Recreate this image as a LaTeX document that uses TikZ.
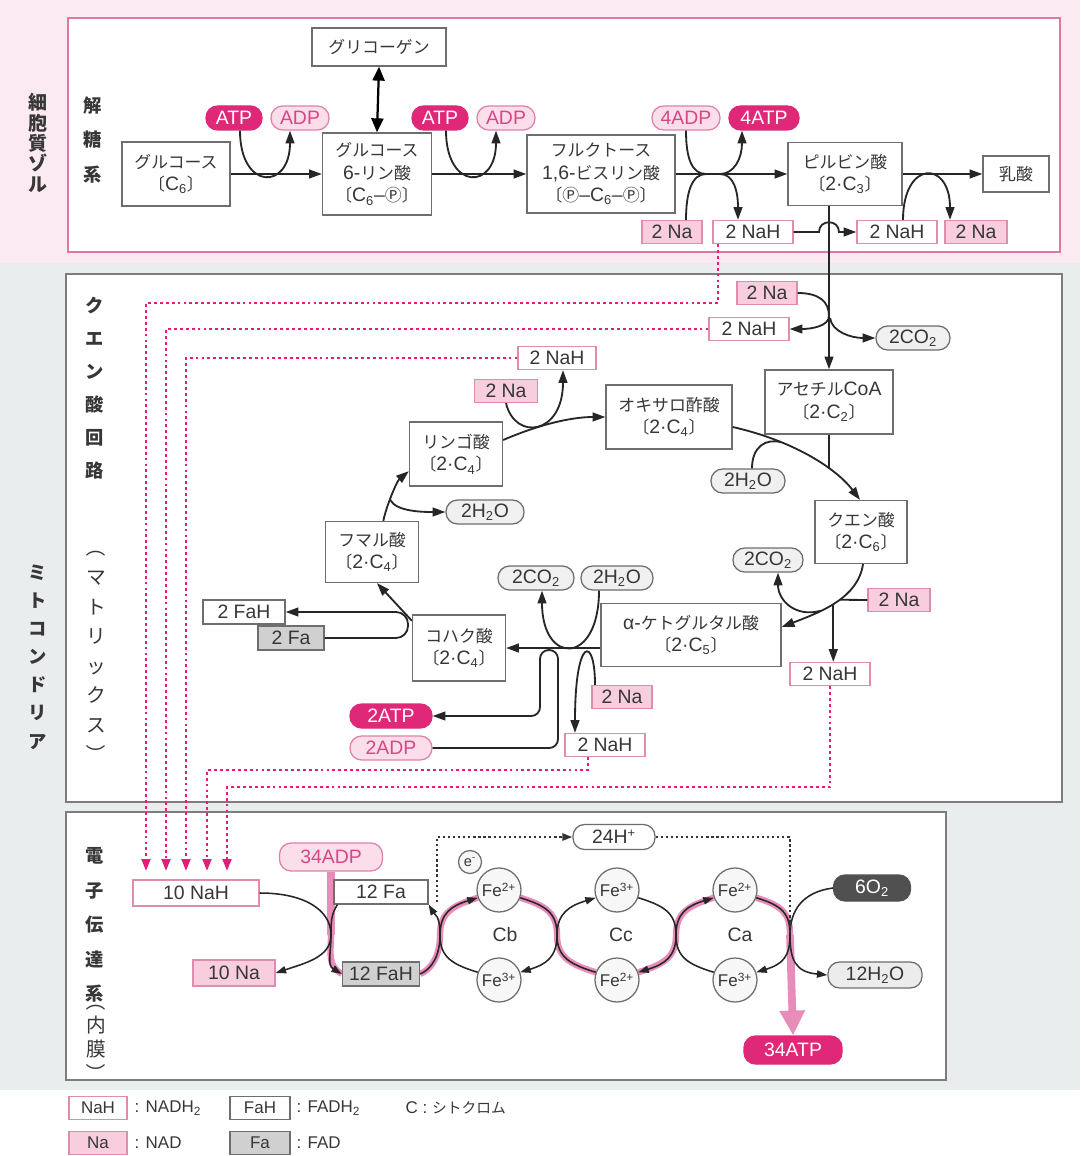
\documentclass[tikz,border=0pt]{standalone}
\usepackage{fontspec}
\setmainfont[Scale=1.15]{Liberation Sans}
\newfontfamily\jp{Noto Sans CJK JP}
\usetikzlibrary{arrows.meta,calc}

\definecolor{txt}{RGB}{55,55,55}
\definecolor{atpmag}{RGB}{224,40,120}
\definecolor{adpfill}{RGB}{252,222,234}
\definecolor{adpline}{RGB}{222,130,170}
\definecolor{adptext}{RGB}{215,70,135}
\definecolor{nafill}{RGB}{248,205,222}
\definecolor{naline}{RGB}{225,140,175}
\definecolor{boxline}{RGB}{110,110,110}
\definecolor{molfill}{RGB}{240,240,240}
\definecolor{fafill}{RGB}{208,208,208}
\definecolor{cytobg}{RGB}{252,234,242}
\definecolor{cytoline}{RGB}{222,120,165}
\definecolor{mitobg}{RGB}{234,237,237}
\definecolor{mitoline}{RGB}{125,125,125}
\definecolor{dotpink}{RGB}{226,30,120}
\definecolor{hilite}{RGB}{232,140,185}
\definecolor{o2fill}{RGB}{80,80,80}

\pgfdeclarelayer{bg}
\pgfdeclarelayer{glow}
\pgfsetlayers{bg,glow,main}

\newcommand{\pxu}{0.025cm}
\newcommand{\kakko}[1]{{\jp 〔}#1{\jp 〕}}
\newcommand{\vparl}{\rotatebox[origin=c]{-90}{（}}
\newcommand{\vparr}{\rotatebox[origin=c]{-90}{）}}

\tikzset{
  box/.style={draw=boxline, fill=white, line width=0.9pt, align=center, inner sep=1pt},
  nah/.style={draw=naline, fill=white, line width=0.9pt, minimum height=23*\pxu, inner sep=1pt},
  na/.style={nah, fill=nafill},
  fbox/.style={draw=boxline, fill=white, line width=0.9pt, minimum height=24*\pxu, inner sep=1pt},
  fboxd/.style={fbox, fill=fafill},
  pill/.style={rounded corners=0.29cm, minimum height=24*\pxu, inner sep=1pt, line width=0.9pt},
  atp/.style={pill, fill=atpmag, draw=atpmag, text=white},
  adp/.style={pill, fill=adpfill, draw=adpline, text=adptext},
  mol/.style={pill, fill=molfill, draw=boxline},
  fe/.style={circle, draw=boxline, fill=gray!6, minimum size=44*\pxu, inner sep=0pt,
    line width=0.9pt, font=\fontsize{10.5}{12}\selectfont},
  arr/.style={line width=1.3pt, draw=black!85, -{Triangle[length=0.32cm,width=0.22cm]}},
  ln/.style={line width=1.3pt, draw=black!85},
  sarr/.style={line width=1.1pt, draw=black!85, -{Triangle[length=0.26cm,width=0.18cm]}},
  pdots/.style={draw=dotpink, line width=1.7pt, dash pattern=on 2pt off 2.2pt,
    -{Triangle[length=0.3cm,width=0.22cm]}},
  kdots/.style={draw=black!80, line width=1.4pt, dash pattern=on 1.6pt off 2pt},
  hl/.style={draw=hilite, line width=4.5pt},
  atpbar/.style={draw=hilite, line width=5.5pt},
  vlab/.style={align=center, inner sep=0pt},
}

\begin{document}
\begin{tikzpicture}[x=0.025cm, y=-0.025cm, font=\fontsize{12}{16}\selectfont, text=txt]
\useasboundingbox (0,0) rectangle (1080,1156);

% compartments
\begin{pgfonlayer}{bg}
  \fill[cytobg] (0,0) rectangle (1080,263);
  \fill[mitobg] (0,263) rectangle (1080,1090);
  \draw[cytoline, line width=1.4pt, fill=white] (68,18) rectangle (1060,252);
  \draw[mitoline, line width=2pt, fill=white] (66,274) rectangle (1062,802);
  \draw[mitoline, line width=2pt, fill=white] (66,812) rectangle (946,1080);
\end{pgfonlayer}

% side labels
\node[vlab, font=\fontsize{13.5}{14.5}\selectfont\bfseries\jp] (lcyto) at (38,143) {細\\胞\\質\\ゾ\\ル};
\node[vlab, font=\fontsize{13}{20}\selectfont\bfseries\jp] (lmito) at (38,657) {ミ\\ト\\コ\\ン\\ド\\リ\\ア};
\node[vlab, font=\fontsize{13}{24.5}\selectfont\bfseries\jp] (lgly) at (93,140) {解\\糖\\系};
\node[vlab, font=\fontsize{13}{23.5}\selectfont\bfseries\jp] (ltca) at (95,388) {ク\\エ\\ン\\酸\\回\\路};
\node[vlab, font=\fontsize{14}{21}\selectfont\jp] (lmat) at (96,651) {\vparl\\マ\\ト\\リ\\ッ\\ク\\ス\\\vparr};
\node[vlab, font=\fontsize{13}{24.5}\selectfont\bfseries\jp] (letc) at (95,925) {電\\子\\伝\\達\\系};
\node[vlab, font=\fontsize{14}{17}\selectfont\jp] (lmem) at (96,1037) {\vparl\\内\\膜\\\vparr};

% glycolysis
\node[box, minimum width=108*\pxu, minimum height=64*\pxu] (glu) at (176,174) {{\jp グルコース}\\\kakko{C\textsubscript{6}}};
\node[box, minimum width=109*\pxu, minimum height=82*\pxu] (g6p) at (377,174) {{\jp グルコース}\\6-{\jp リン酸}\\\kakko{C\textsubscript{6}–{\jp Ⓟ}}};
\node[box, minimum width=134*\pxu, minimum height=38*\pxu] (glyc) at (379,47) {{\jp グリコーゲン}};
\node[box, minimum width=148*\pxu, minimum height=78*\pxu] (f16) at (601,174) {{\jp フルクトース}\\1,6-{\jp ビスリン酸}\\\kakko{{\jp Ⓟ}–C\textsubscript{6}–{\jp Ⓟ}}};
\node[box, minimum width=114*\pxu, minimum height=63*\pxu] (pyr) at (845,174) {{\jp ピルビン酸}\\\kakko{2·C\textsubscript{3}}};
\node[box, minimum width=66*\pxu, minimum height=36*\pxu] (lac) at (1016,174) {{\jp 乳酸}};
\node[atp, minimum width=56*\pxu] (atp1) at (234,118) {ATP};
\node[adp, minimum width=58*\pxu] (adp1) at (300,118) {ADP};
\node[atp, minimum width=56*\pxu] (atp2) at (440,118) {ATP};
\node[adp, minimum width=58*\pxu] (adp2) at (506,118) {ADP};
\node[adp, minimum width=68*\pxu] (adp4) at (686,118) {4ADP};
\node[atp, minimum width=70*\pxu] (atp4) at (764,118) {4ATP};
\node[na, minimum width=60*\pxu] (na1) at (672,232) {2 Na};
\node[nah, minimum width=80*\pxu] (nah1) at (753,232) {2 NaH};
\node[nah, minimum width=80*\pxu] (nah2) at (897,232) {2 NaH};
\node[na, minimum width=62*\pxu] (na2) at (976,232) {2 Na};

\draw[line width=1.6pt, {Triangle[length=0.35cm,width=0.3cm]}-{Triangle[length=0.35cm,width=0.3cm]}] (glyc.south) -- (g6p.north);
\draw[arr] (glu.east) -- (g6p.west);
\draw[arr] ([xshift=6*\pxu]atp1.south) .. controls +(0,60) and +(0,60) .. ([xshift=-10*\pxu]adp1.south);
\draw[arr] (g6p.east) -- (f16.west);
\draw[arr] ([xshift=6*\pxu]atp2.south) .. controls +(0,60) and +(0,60) .. ([xshift=-10*\pxu]adp2.south);
\draw[arr] (f16.east) -- (pyr.west);
\coordinate (xl) at (706,174);
\coordinate (xr) at (720,174);
\draw[ln] (adp4.south) .. controls +(0,28) and +(-14,0) .. (xl);
\draw[ln] ([xshift=14*\pxu]na1.north) .. controls +(0,-28) and +(-14,0) .. (xl);
\draw[arr] (xr) .. controls +(14,0) and +(0,28) .. ([xshift=-22*\pxu]atp4.south);
\draw[arr] (xr) .. controls +(14,0) and +(0,-28) .. ([xshift=-15*\pxu]nah1.north);
\draw[arr] (pyr.east) -- (lac.west);
\draw[arr] ([xshift=6*\pxu]nah2.north) .. controls +(0,-60) and +(0,-60) .. ([xshift=-26*\pxu]na2.north);

% citric acid cycle
\node[na, minimum width=60*\pxu] (naA) at (767,293) {2 Na};
\node[nah, minimum width=80*\pxu] (nahA) at (749,329) {2 NaH};
\node[mol, minimum width=74*\pxu] (co2A) at (913,338) {2CO\textsubscript{2}};
\node[box, minimum width=128*\pxu, minimum height=64*\pxu] (acoa) at (829,402) {{\jp アセチル}CoA\\\kakko{2·C\textsubscript{2}}};
\node[box, minimum width=126*\pxu, minimum height=64*\pxu] (oaa) at (669,417) {{\jp オキサロ酢酸}\\\kakko{2·C\textsubscript{4}}};
\node[nah, minimum width=78*\pxu] (nahB) at (557,358) {2 NaH};
\node[na, minimum width=63*\pxu] (naB) at (506,391) {2 Na};
\node[box, minimum width=93*\pxu, minimum height=64*\pxu] (mal) at (456,454) {{\jp リンゴ酸}\\\kakko{2·C\textsubscript{4}}};
\node[mol, minimum width=78*\pxu] (h2oA) at (485,512) {2H\textsubscript{2}O};
\node[box, minimum width=93*\pxu, minimum height=61*\pxu] (fum) at (372,552) {{\jp フマル酸}\\\kakko{2·C\textsubscript{4}}};
\node[fbox, minimum width=82*\pxu] (fahA) at (244,612) {2 FaH};
\node[fboxd, minimum width=66*\pxu] (faA) at (291,638) {2 Fa};
\node[box, minimum width=93*\pxu, minimum height=66*\pxu] (suc) at (459,648) {{\jp コハク酸}\\\kakko{2·C\textsubscript{4}}};
\node[atp, minimum width=82*\pxu] (atpB) at (391,716) {2ATP};
\node[adp, minimum width=82*\pxu] (adpB) at (391,748) {2ADP};
\node[mol, minimum width=76*\pxu] (co2B) at (536,578) {2CO\textsubscript{2}};
\node[mol, minimum width=72*\pxu] (h2oB) at (617,578) {2H\textsubscript{2}O};
\node[box, minimum width=180*\pxu, minimum height=63*\pxu] (akg) at (691,635) {α-{\jp ケトグルタル酸}\\\kakko{2·C\textsubscript{5}}};
\node[na, minimum width=60*\pxu] (naD) at (622,697) {2 Na};
\node[nah, minimum width=80*\pxu] (nahD) at (605,745) {2 NaH};
\node[box, minimum width=92*\pxu, minimum height=63*\pxu] (cit) at (861,532) {{\jp クエン酸}\\\kakko{2·C\textsubscript{6}}};
\node[mol, minimum width=74*\pxu] (h2oC) at (748,481) {2H\textsubscript{2}O};
\node[mol, minimum width=70*\pxu] (co2C) at (768,560) {2CO\textsubscript{2}};
\node[na, minimum width=62*\pxu] (naE) at (899,600) {2 Na};
\node[nah, minimum width=80*\pxu] (nahE) at (830,674) {2 NaH};

% pyruvate -> acetyl CoA
\draw[arr] (nah1.east) -- (819,232) .. controls (819,219) and (839,219) .. (839,232) -- (nah2.west);
\draw[arr] (pyr.south -| acoa.north) -- (acoa.north);
\coordinate (j1) at (829,316);
\coordinate (j2) at (830,318);
\draw[arr] (naA.east) .. controls +(22,0) and +(0,-14) .. (j1) .. controls +(0,10) and +(22,0) .. (nahA.east);
\draw[arr] (j2) .. controls +(2,14) and +(-24,0) .. (co2A.west);

% oxaloacetate -> citrate
\draw[arr] ([yshift=-10*\pxu]oaa.east) .. controls +(58,13) and +(-25,-33) .. ([xshift=-1*\pxu]cit.north)
  coordinate[pos=0.67] (j3) coordinate[pos=0.3] (j4);
\draw[ln] (acoa.south) -- (acoa.south |- j3);
\draw[ln] ([xshift=4*\pxu]h2oC.north) .. controls +(0,-22) and +(-15,-4) .. (j4);

% citrate -> alpha-ketoglutarate
\draw[arr] ([xshift=2*\pxu]cit.south) .. controls +(-5,34) and +(39,-15) .. ([yshift=8*\pxu]akg.east)
  coordinate[pos=0.45] (j5) coordinate[pos=0.52] (j6) coordinate[pos=0.65] (j7);
\draw[ln] (naE.west) -- (j5);
\draw[arr] (j6) -- (j6 |- nahE.north);
\draw[arr] (j7) .. controls +(-25,7) and +(0,28) .. ([xshift=10*\pxu]co2C.south);

% alpha-ketoglutarate -> succinate
\draw[arr] (suc.east -| akg.west) -- (suc.east);
\draw[arr] ([xshift=-18*\pxu]h2oB.south) .. controls +(0,75) and +(0,75) .. ([xshift=6*\pxu]co2B.south);
\draw[arr] ([xshift=-27*\pxu]naD.north) .. controls +(0,-50) and +(0,-97) .. ([xshift=-30*\pxu]nahD.north);
\draw[arr, rounded corners=0.22cm] (adpB.east) -| (558,650) -| (540,716) -- (atpB.east);

% succinate -> fumarate -> malate -> oxaloacetate
\draw[arr] (suc.150) -- ([xshift=5*\pxu]fum.south);
\draw[arr, rounded corners=0.3cm] (faA.east) -| (408,612) -- (fahA.east);
\draw[arr] (fum.70) .. controls +(3,-15) and +(-12,10) .. (mal.200) coordinate[pos=0.4] (j8);
\draw[arr] (j8) .. controls +(6,12) and +(-22,0) .. (h2oA.west);
\draw[arr] ([yshift=14*\pxu]mal.east) .. controls +(35,-15) and +(-35,0) .. (oaa.west);
\draw[arr] (naB.south) .. controls +(9,38) and +(0,65) .. ([xshift=6*\pxu]nahB.south);

% electron transport chain
\node[nah, minimum width=126*\pxu, minimum height=26*\pxu] (nadh10) at (196,893) {10 NaH};
\node[na, minimum width=82*\pxu, minimum height=26*\pxu] (nad10) at (234,973) {10 Na};
\node[adp, minimum width=103*\pxu, minimum height=28*\pxu] (adp34) at (331,857) {34ADP};
\node[fbox, minimum width=94*\pxu] (fa12) at (381,892) {12 Fa};
\node[fboxd, minimum width=77*\pxu] (fah12) at (381,974) {12 FaH};
\node[mol, fill=white, minimum width=82*\pxu, minimum height=25*\pxu] (h24) at (614,837) {24H\textsuperscript{+}};
\node[fe, minimum size=23*\pxu, font=\fontsize{9}{10}\selectfont] (el) at (470,862) {e\textsuperscript{-}};
\node[fe] (cbT) at (499,890) {Fe\textsuperscript{2+}};
\node[fe] (cbB) at (499,980) {Fe\textsuperscript{3+}};
\node[fe] (ccT) at (617,890) {Fe\textsuperscript{3+}};
\node[fe] (ccB) at (617,980) {Fe\textsuperscript{2+}};
\node[fe] (caT) at (735,890) {Fe\textsuperscript{2+}};
\node[fe] (caB) at (735,980) {Fe\textsuperscript{3+}};
\node (cb) at (505,935) {Cb};
\node (cc) at (621,935) {Cc};
\node (ca) at (740,935) {Ca};
\node[pill, fill=o2fill, draw=o2fill, text=white, minimum width=77*\pxu, minimum height=26*\pxu] (o2) at (872,888) {6O\textsubscript{2}};
\node[mol, fill=gray!15, minimum width=94*\pxu, minimum height=26*\pxu] (h2o12) at (875,975) {12H\textsubscript{2}O};
\node[atp, minimum width=98*\pxu, minimum height=28*\pxu] (atp34) at (793,1050) {34ATP};

\coordinate (x0) at (331,935);
\coordinate (x1) at (440,935);
\coordinate (x2) at (557,935);
\coordinate (x3) at (676,935);
\coordinate (x4) at (790,935);

% ATP synthesis path
\begin{pgfonlayer}{glow}
  \draw[atpbar] (adp34.south) -- (x0);
  \draw[hl] (x0) .. controls +(0,18) and +(-15,-9) .. (fah12.west);
  \draw[hl] (fah12.east) .. controls +(12,-5) and +(0,20) .. (x1) .. controls +(0,-22) and +(-26,8) .. (cbT.200);
  \draw[hl] (cbT.340) .. controls +(26,8) and +(0,-22) .. (x2) .. controls +(0,22) and +(-26,-8) .. (ccB.160);
  \draw[hl] (ccB.20) .. controls +(26,-8) and +(0,22) .. (x3) .. controls +(0,-22) and +(-26,8) .. (caT.200);
  \draw[hl] (caT.340) .. controls +(26,8) and +(0,-22) .. (x4);
\end{pgfonlayer}
\draw[atpbar, -{Triangle[length=0.62cm,width=0.6cm]}] (x4) -- (atp34.north);

% redox loops
\draw[sarr] (nadh10.east) .. controls +(45,0) and +(0,-25) .. (x0) .. controls +(0,22) and +(30,-10) .. (nad10.east);
\draw[sarr] ([xshift=4*\pxu]fa12.south west) .. controls +(-6,10) and +(0,-15) .. (x0) .. controls +(0,18) and +(-15,-9) .. (fah12.west);
\draw[sarr] (fah12.east) .. controls +(12,-5) and +(0,20) .. (x1) .. controls +(0,-20) and +(6,10) .. (fa12.south east);
\foreach \tp/\bt/\lx/\rx in {cbT/cbB/x1/x2, ccT/ccB/x2/x3, caT/caB/x3/x4}{
  \draw[sarr] (\bt.160) .. controls +(-26,-8) and +(0,22) .. (\lx) .. controls +(0,-22) and +(-26,8) .. (\tp.200);
  \draw[sarr] (\tp.340) .. controls +(26,8) and +(0,-22) .. (\rx) .. controls +(0,22) and +(26,-8) .. (\bt.20);
}
\draw[sarr] (o2.west) .. controls +(-30,4) and +(0,-25) .. (x4) .. controls +(0,25) and +(-32,-3) .. (h2o12.west);

% proton pumping
\coordinate (hs) at (437,902);
\draw[kdots, -{Triangle[length=0.25cm,width=0.18cm]}] (hs) |- (h24.west);
\draw[kdots] (h24.east) -| (x4);

% NADH to the chain
\coordinate (in1) at (146,871);
\coordinate (in2) at (166,871);
\coordinate (in3) at (186,871);
\coordinate (in4) at (207,871);
\coordinate (in5) at (227,871);
\draw[pdots] ([xshift=-35*\pxu]nah1.south) -- ++(0,59) -| (in1);
\draw[pdots] (nahA.west) -| (in2);
\draw[pdots] (nahB.west) -| (in3);
\draw[pdots] ([xshift=-17*\pxu]nahD.south) -- ++(0,13) -| (in4);
\draw[pdots] (nahE.south) -- ++(0,101) -| (in5);

% legend
\begin{scope}[font=\fontsize{10.5}{12}\selectfont]
  \node[nah, minimum width=58*\pxu] (kNaH) at (98,1108) {NaH};
  \node[anchor=west] (kNaHt) at (129,1108) {: NADH\textsubscript{2}};
  \node[fbox, minimum width=60*\pxu, minimum height=23*\pxu] (kFaH) at (260,1108) {FaH};
  \node[anchor=west] (kFaHt) at (291,1108) {: FADH\textsubscript{2}};
  \node[anchor=west] (kC) at (400,1108) {C : {\jp シトクロム}};
  \node[na, minimum width=58*\pxu] (kNa) at (98,1143) {Na};
  \node[anchor=west] (kNat) at (129,1143) {: NAD};
  \node[fboxd, minimum width=60*\pxu, minimum height=23*\pxu] (kFa) at (260,1143) {Fa};
  \node[anchor=west] (kFat) at (291,1143) {: FAD};
\end{scope}
\end{tikzpicture}
\end{document}
